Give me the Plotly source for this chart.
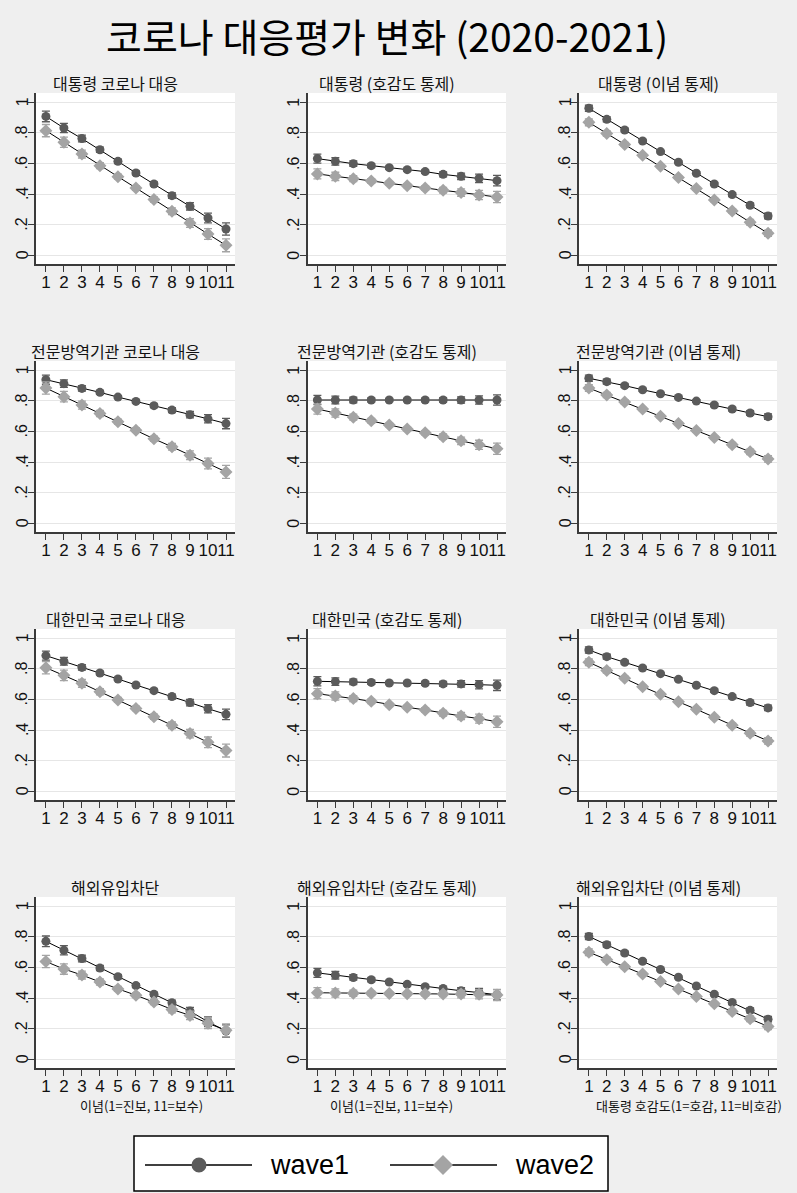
import plotly.graph_objects as go

# ---------------- data ----------------
x_vals = list(range(1, 12))
x_tick_labels = [str(i) for i in x_vals]
y_tick_vals = [0, 0.2, 0.4, 0.6, 0.8, 1]
y_tick_labels = ["0", ".2", ".4", ".6", ".8", "1"]

main_title = "코로나 대응평가 변화 (2020-2021)"
panel_titles = [
    "대통령 코로나 대응", "대통령 (호감도 통제)", "대통령 (이념 통제)",
    "전문방역기관 코로나 대응", "전문방역기관 (호감도 통제)", "전문방역기관 (이념 통제)",
    "대한민국 코로나 대응", "대한민국 (호감도 통제)", "대한민국 (이념 통제)",
    "해외유입차단", "해외유입차단 (호감도 통제)", "해외유입차단 (이념 통제)",
]
x_axis_titles = ["이념(1=진보, 11=보수)", "이념(1=진보, 11=보수)", "대통령 호감도(1=호감, 11=비호감)"]
series_names = ["wave1", "wave2"]

p1_w1 = [0.908, 0.832, 0.763, 0.690, 0.614, 0.538, 0.466, 0.390, 0.320, 0.244, 0.172]
p1_w2 = [0.815, 0.739, 0.662, 0.586, 0.514, 0.440, 0.364, 0.288, 0.211, 0.139, 0.065]
p2_w1 = [0.632, 0.614, 0.599, 0.586, 0.573, 0.560, 0.547, 0.529, 0.516, 0.503, 0.488]
p2_w2 = [0.532, 0.516, 0.501, 0.486, 0.471, 0.455, 0.440, 0.425, 0.410, 0.394, 0.381]
p3_w1 = [0.961, 0.889, 0.819, 0.747, 0.678, 0.608, 0.536, 0.466, 0.397, 0.327, 0.257]
p3_w2 = [0.869, 0.797, 0.725, 0.654, 0.582, 0.508, 0.436, 0.362, 0.290, 0.216, 0.144]
p4_w1 = [0.939, 0.913, 0.882, 0.856, 0.825, 0.797, 0.769, 0.740, 0.710, 0.683, 0.652]
p4_w2 = [0.884, 0.828, 0.773, 0.718, 0.664, 0.609, 0.552, 0.500, 0.445, 0.391, 0.336]
p5_w1 = [0.806, 0.806, 0.806, 0.806, 0.806, 0.806, 0.806, 0.806, 0.806, 0.806, 0.806]
p5_w2 = [0.747, 0.721, 0.694, 0.670, 0.642, 0.616, 0.592, 0.566, 0.539, 0.513, 0.487]
p6_w1 = [0.948, 0.926, 0.900, 0.873, 0.847, 0.823, 0.799, 0.773, 0.747, 0.721, 0.697]
p6_w2 = [0.884, 0.838, 0.793, 0.747, 0.699, 0.653, 0.607, 0.561, 0.513, 0.467, 0.421]
p7_w1 = [0.887, 0.850, 0.810, 0.773, 0.734, 0.695, 0.658, 0.619, 0.580, 0.540, 0.503]
p7_w2 = [0.808, 0.758, 0.706, 0.651, 0.597, 0.542, 0.488, 0.431, 0.377, 0.320, 0.266]
p8_w1 = [0.719, 0.717, 0.715, 0.712, 0.708, 0.708, 0.706, 0.702, 0.702, 0.697, 0.693]
p8_w2 = [0.638, 0.623, 0.606, 0.588, 0.566, 0.549, 0.532, 0.510, 0.492, 0.475, 0.455]
p9_w1 = [0.924, 0.880, 0.843, 0.806, 0.769, 0.732, 0.693, 0.658, 0.619, 0.580, 0.545]
p9_w2 = [0.843, 0.789, 0.739, 0.684, 0.634, 0.586, 0.536, 0.484, 0.431, 0.379, 0.329]
p10_w1 = [0.771, 0.713, 0.659, 0.596, 0.540, 0.482, 0.425, 0.369, 0.315, 0.245, 0.185]
p10_w2 = [0.639, 0.590, 0.551, 0.505, 0.460, 0.419, 0.374, 0.326, 0.287, 0.235, 0.190]
p11_w1 = [0.565, 0.550, 0.535, 0.520, 0.505, 0.490, 0.475, 0.462, 0.448, 0.436, 0.422]
p11_w2 = [0.435, 0.433, 0.432, 0.431, 0.430, 0.429, 0.428, 0.427, 0.426, 0.425, 0.420]
p12_w1 = [0.803, 0.749, 0.695, 0.641, 0.587, 0.536, 0.479, 0.425, 0.371, 0.320, 0.262]
p12_w2 = [0.700, 0.650, 0.605, 0.557, 0.508, 0.460, 0.410, 0.363, 0.313, 0.265, 0.215]

# 95% CI half-widths
ci_raw_w1 = [0.035, 0.030, 0.022, 0.017, 0.014, 0.013, 0.014, 0.018, 0.024, 0.032, 0.040]
ci_raw_w2 = [0.040, 0.034, 0.026, 0.020, 0.016, 0.015, 0.017, 0.022, 0.028, 0.035, 0.042]
ci_fav_w1 = [0.030, 0.025, 0.018, 0.013, 0.010, 0.010, 0.012, 0.016, 0.021, 0.027, 0.034]
ci_fav_w2 = [0.033, 0.027, 0.020, 0.015, 0.012, 0.012, 0.014, 0.018, 0.024, 0.030, 0.037]
ci_ide_w1 = [0.020, 0.016, 0.012, 0.010, 0.008, 0.008, 0.009, 0.011, 0.013, 0.016, 0.018]
ci_ide_w2 = [0.022, 0.017, 0.013, 0.010, 0.009, 0.009, 0.010, 0.012, 0.015, 0.018, 0.021]

panels = [
    (p1_w1, ci_raw_w1, p1_w2, ci_raw_w2),
    (p2_w1, ci_fav_w1, p2_w2, ci_fav_w2),
    (p3_w1, ci_ide_w1, p3_w2, ci_ide_w2),
    (p4_w1, ci_fav_w1, p4_w2, ci_raw_w2),
    (p5_w1, ci_fav_w1, p5_w2, ci_fav_w2),
    (p6_w1, ci_ide_w1, p6_w2, ci_ide_w2),
    (p7_w1, ci_fav_w1, p7_w2, ci_raw_w2),
    (p8_w1, ci_fav_w1, p8_w2, ci_fav_w2),
    (p9_w1, ci_ide_w1, p9_w2, ci_ide_w2),
    (p10_w1, ci_raw_w1, p10_w2, ci_raw_w2),
    (p11_w1, ci_fav_w1, p11_w2, ci_fav_w2),
    (p12_w1, ci_ide_w1, p12_w2, ci_ide_w2),
]

# ---------------- styling / layout ----------------
W, H = 797, 1193
BG = "#efefef"
C1 = "#5b5b5b"
C2 = "#a4a4a4"
AXC = "#3a3a3a"
FONT = "Liberation Sans, Arial, Noto Sans CJK KR, sans-serif"
KFONT = "Noto Sans CJK KR, Liberation Sans, sans-serif"

col_px = [(36, 235), (307.5, 506), (579, 777)]
row_px = [(93, 264), (361, 532), (629, 800), (897, 1068)]


def px_x(v):
    return v / W


def px_y(v):
    return 1 - v / H


fig = go.Figure()
layout_axes = {}
annotations = []

for i, (w1, c1, w2, c2) in enumerate(panels):
    r, c = divmod(i, 3)
    n = i + 1
    xa = "x" if n == 1 else f"x{n}"
    ya = "y" if n == 1 else f"y{n}"
    x0, x1 = col_px[c]
    y0, y1 = row_px[r]

    fig.add_trace(go.Scatter(
        x=x_vals, y=w1, xaxis=xa, yaxis=ya, mode="lines+markers",
        line=dict(color="black", width=1),
        marker=dict(symbol="circle", size=9, color=C1),
        error_y=dict(type="data", array=c1, symmetric=True, color=C1, thickness=1.3, width=4),
        showlegend=False, name=series_names[0]))
    fig.add_trace(go.Scatter(
        x=x_vals, y=w2, xaxis=xa, yaxis=ya, mode="lines+markers",
        line=dict(color="black", width=1),
        marker=dict(symbol="diamond", size=10, color=C2),
        error_y=dict(type="data", array=c2, symmetric=True, color=C2, thickness=1.3, width=4),
        showlegend=False, name=series_names[1]))

    xkey = "xaxis" if n == 1 else f"xaxis{n}"
    ykey = "yaxis" if n == 1 else f"yaxis{n}"
    layout_axes[xkey] = dict(
        domain=[px_x(x0), px_x(x1)], anchor=ya, range=[0.45, 11.5],
        tickmode="array", tickvals=x_vals, ticktext=x_tick_labels, tickangle=0,
        ticks="outside", ticklen=6, tickcolor=AXC, tickwidth=1, ticklabelstandoff=-4,
        showline=True, linecolor=AXC, linewidth=1.5, showgrid=False, zeroline=False,
        tickfont=dict(family=FONT, size=17, color="#111111"), fixedrange=True)
    layout_axes[ykey] = dict(
        domain=[px_y(y1), px_y(y0)], anchor=xa, range=[-0.057, 1.061],
        tickmode="array", tickvals=y_tick_vals, showticklabels=False,
        ticks="outside", ticklen=6, tickcolor=AXC, tickwidth=1,
        showline=True, linecolor=AXC, linewidth=1.5,
        showgrid=True, gridcolor="#e6e6e6", gridwidth=1, zeroline=False,
        fixedrange=True)

    # rotated y tick labels (Stata style)
    for tv, tl in zip(y_tick_vals, y_tick_labels):
        annotations.append(dict(
            text=tl, xref="paper", yref=ya, x=px_x(x0 - 14), y=tv,
            xanchor="center", yanchor="middle", textangle=-90, showarrow=False,
            font=dict(family=FONT, size=16, color="#111111")))

    annotations.append(dict(
        text=panel_titles[i], xref="paper", yref="paper",
        x=px_x((x0 + x1) / 2 - 20), y=px_y(y0 - 10), xanchor="center", yanchor="middle",
        showarrow=False, font=dict(family=KFONT, size=16, color="#111111")))

# x-axis titles under bottom row
xt_centers = [141, 391, 689]
for c in range(3):
    annotations.append(dict(
        text=x_axis_titles[c], xref="paper", yref="paper",
        x=px_x(xt_centers[c]), y=px_y(1105), xanchor="center", yanchor="middle",
        showarrow=False, font=dict(family=KFONT, size=13, color="#111111")))

# main title
annotations.append(dict(
    text=main_title, xref="paper", yref="paper", x=px_x(387), y=px_y(35),
    xanchor="center", yanchor="middle", showarrow=False,
    font=dict(family=KFONT, size=39, color="black")))

# legend (drawn manually to mimic the long-line legend keys)
shapes = []
shapes.append(dict(type="rect", xref="paper", yref="paper",
                   x0=px_x(134), x1=px_x(608), y0=px_y(1191), y1=px_y(1136),
                   fillcolor="white", line=dict(color="black", width=1.5), layer="above"))
ly = 1165
for (lx0, lx1, mx, sym, col, tx, name) in [
        (145, 252, 199, "circle", C1, 268, series_names[0]),
        (390, 497, 443, "diamond", C2, 513, series_names[1])]:
    shapes.append(dict(type="line", xref="paper", yref="paper",
                       x0=px_x(lx0), x1=px_x(lx1), y0=px_y(ly), y1=px_y(ly),
                       line=dict(color="black", width=1.5), layer="above"))
    if sym == "circle":
        r_ = 7.5
        shapes.append(dict(type="circle", xref="paper", yref="paper",
                           x0=px_x(mx - r_), x1=px_x(mx + r_), y0=px_y(ly + r_), y1=px_y(ly - r_),
                           fillcolor=col, line=dict(color=col, width=0), layer="above"))
    else:
        d = 10
        path = (f"M {px_x(mx - d)},{px_y(ly)} L {px_x(mx)},{px_y(ly - d)} "
                f"L {px_x(mx + d)},{px_y(ly)} L {px_x(mx)},{px_y(ly + d)} Z")
        shapes.append(dict(type="path", xref="paper", yref="paper", path=path,
                           fillcolor=col, line=dict(color=col, width=0), layer="above"))
    annotations.append(dict(text=name, xref="paper", yref="paper",
                            x=px_x(tx), y=px_y(ly), xanchor="left", yanchor="middle",
                            showarrow=False, font=dict(family=FONT, size=27, color="black")))

fig.update_layout(
    width=W, height=H, margin=dict(l=0, r=0, t=0, b=0),
    paper_bgcolor=BG, plot_bgcolor="white",
    annotations=annotations, shapes=shapes, showlegend=False,
    **layout_axes)

fig.write_html(
    "out.html", config={"displayModeBar": False},
    post_script="document.body.style.margin='0';document.body.style.padding='0';"
                "document.body.style.overflow='hidden';"
                "document.documentElement.style.background='" + BG + "';")
